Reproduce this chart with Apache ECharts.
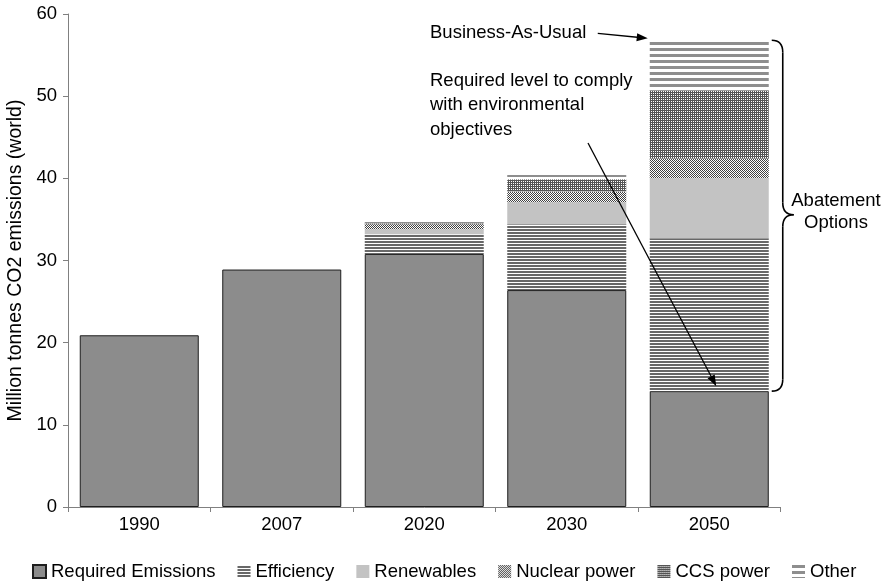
<!DOCTYPE html>
<html>
<head>
<meta charset="utf-8">
<script src="https://cdn.jsdelivr.net/npm/echarts@6/dist/echarts.min.js"></script>
<style>
  html, body { margin: 0; padding: 0; background: #fff; }
  #chart { width: 896px; height: 585px; }
</style>
</head>
<body>
<div id="chart"></div>
<script>
// World CO2 emissions: required level vs. abatement options (million tonnes)
const categories = ['1990', '2007', '2020', '2030', '2050'];
const requiredEmissions = [20.9, 28.9, 30.8, 26.4, 14.1];
const efficiency = [0, 0, 2.4, 8.0, 18.6];
const renewables = [0, 0, 0.6, 2.7, 7.3];
const nuclearPower = [0, 0, 0.6, 1.3, 2.4];
const ccsPower = [0, 0, 0.1, 1.5, 8.3];
const other = [0, 0, 0.2, 0.5, 6.1];
const yTicks = { min: 0, max: 60, interval: 10 };

const FONT = 'Liberation Sans, Arial, sans-serif';
const FS = 18.5;

// Small repeating canvas fills for the hatched segments
function pattern(w, h, draw) {
  const c = document.createElement('canvas');
  c.width = w; c.height = h;
  const g = c.getContext('2d');
  g.fillStyle = '#ffffff';
  g.fillRect(0, 0, w, h);
  draw(g);
  return { image: c, repeat: 'repeat' };
}
const fillEfficiency = pattern(4, 3, g => { g.fillStyle = '#686868'; g.fillRect(0, 1, 4, 2); });
const fillNuclear = pattern(2, 2, g => { g.fillStyle = '#404040'; g.fillRect(0, 0, 1, 1); g.fillRect(1, 1, 1, 1); });
const fillCcs = pattern(2, 2, g => { g.fillStyle = '#555555'; g.fillRect(0, 0, 2, 2); g.fillStyle = '#ffffff'; g.fillRect(1, 1, 1, 1); });
const fillOther = pattern(4, 6, g => { g.fillStyle = '#8e8e8e'; g.fillRect(0, 0, 4, 3); });

const chart = echarts.init(document.getElementById('chart'), null, { renderer: 'canvas' });

const BAR_W = 119;
function barSeries(name, data, itemStyle) {
  return { name, type: 'bar', stack: 'total', data, barWidth: BAR_W, itemStyle, emphasis: { disabled: true } };
}

chart.setOption({
  animation: false,
  textStyle: { fontFamily: FONT },
  grid: { left: 68, right: 115.5, top: 14, bottom: 78, containLabel: false, outerBoundsMode: 'none' },
  legend: {
    left: 32, top: 562, padding: 0, itemWidth: 13, itemHeight: 13, itemGap: 22, icon: 'rect',
    textStyle: { fontSize: FS, color: '#000', fontFamily: FONT },
    data: ['Required Emissions', 'Efficiency', 'Renewables', 'Nuclear power', 'CCS power', 'Other']
  },
  xAxis: {
    type: 'category', data: categories,
    axisLine: { lineStyle: { color: '#808080', width: 1 } },
    axisTick: { show: true, length: 5, lineStyle: { color: '#808080' } },
    axisLabel: { fontSize: FS, color: '#000', margin: 8, fontFamily: FONT }
  },
  yAxis: {
    type: 'value', min: yTicks.min, max: yTicks.max, interval: yTicks.interval,
    name: 'Million tonnes CO2 emissions (world)', nameLocation: 'middle', nameGap: 36,
    nameTextStyle: { fontSize: 19.5, color: '#000', fontFamily: FONT },
    axisLine: { show: true, lineStyle: { color: '#808080', width: 1 } },
    axisTick: { show: true, length: 5, lineStyle: { color: '#808080' } },
    splitLine: { show: false },
    axisLabel: { fontSize: FS, color: '#000', margin: 11, fontFamily: FONT }
  },
  series: [
    barSeries('Required Emissions', requiredEmissions, { color: '#8c8c8c', borderColor: '#1e1e1e', borderWidth: 1 }),
    barSeries('Efficiency', efficiency, { color: fillEfficiency }),
    barSeries('Renewables', renewables, { color: '#c3c3c3' }),
    barSeries('Nuclear power', nuclearPower, { color: fillNuclear }),
    barSeries('CCS power', ccsPower, { color: fillCcs }),
    barSeries('Other', other, { color: fillOther })
  ]
});

// Annotation layer: arrows, brace and labels anchored to the 2050 bar
function px(i, v) { return chart.convertToPixel({ gridIndex: 0 }, [i, v]); }
function arrow(x1, y1, x2, y2) {
  const a = Math.atan2(y2 - y1, x2 - x1);
  const len = 11, half = 4;
  const bx = x2 - len * Math.cos(a), by = y2 - len * Math.sin(a);
  const nx = -Math.sin(a) * half, ny = Math.cos(a) * half;
  return [
    { type: 'line', silent: true, z: 100, shape: { x1, y1, x2: x2 - 8 * Math.cos(a), y2: y2 - 8 * Math.sin(a) }, style: { stroke: '#000', lineWidth: 1.3 } },
    { type: 'polygon', silent: true, z: 100, shape: { points: [[x2, y2], [bx + nx, by + ny], [bx - nx, by - ny]] }, style: { fill: '#000' } }
  ];
}
function label(text, x, y, align) {
  return { type: 'text', silent: true, z: 100, x, y, style: { text, fill: '#000', font: FS + 'px ' + FONT, textAlign: align || 'left', textVerticalAlign: 'middle' } };
}

const last = categories.length - 1;
const total2050 = requiredEmissions[last] + efficiency[last] + renewables[last] + nuclearPower[last] + ccsPower[last] + other[last];
const topPt = px(last, total2050);
const reqPt = px(last, requiredEmissions[last]);
const barLeft = topPt[0] - BAR_W / 2;
const barRight = topPt[0] + BAR_W / 2;

const elements = [];
elements.push(label('Business-As-Usual', 430, 33));
elements.push(...arrow(barLeft - 52, topPt[1] - 7, barLeft - 2, topPt[1] - 2));
elements.push(label('Required level to comply', 430, 81));
elements.push(label('with environmental', 430, 105));
elements.push(label('objectives', 430, 130));
elements.push(...arrow(588, 143, reqPt[0] + 7, reqPt[1] - 5));

// Curly brace spanning the abatement segments of 2050
const x0 = barRight + 3, xm = barRight + 14, xp = barRight + 25;
const yt = topPt[1], yb = reqPt[1], ym = (yt + yb) / 2 - 1;
const braceStroke = { stroke: '#000', lineWidth: 1.6, fill: null };
function curve(x1, y1, cx, cy, x2, y2) {
  return { type: 'bezierCurve', silent: true, z: 100, shape: { x1, y1, cpx1: cx, cpy1: cy, x2, y2 }, style: braceStroke };
}
function seg(x1, y1, x2, y2) {
  return { type: 'line', silent: true, z: 100, shape: { x1, y1, x2, y2 }, style: braceStroke };
}
elements.push(curve(x0, yt, xm, yt, xm, yt + 12));
elements.push(seg(xm, yt + 12, xm, ym - 12));
elements.push(curve(xm, ym - 12, xm, ym, xp, ym));
elements.push(curve(xp, ym, xm, ym, xm, ym + 12));
elements.push(seg(xm, ym + 12, xm, yb - 12));
elements.push(curve(xm, yb - 12, xm, yb, x0, yb));
elements.push(label('Abatement', 836, ym - 14, 'center'));
elements.push(label('Options', 836, ym + 8, 'center'));

chart.setOption({ graphic: { elements } });
</script>
</body>
</html>
